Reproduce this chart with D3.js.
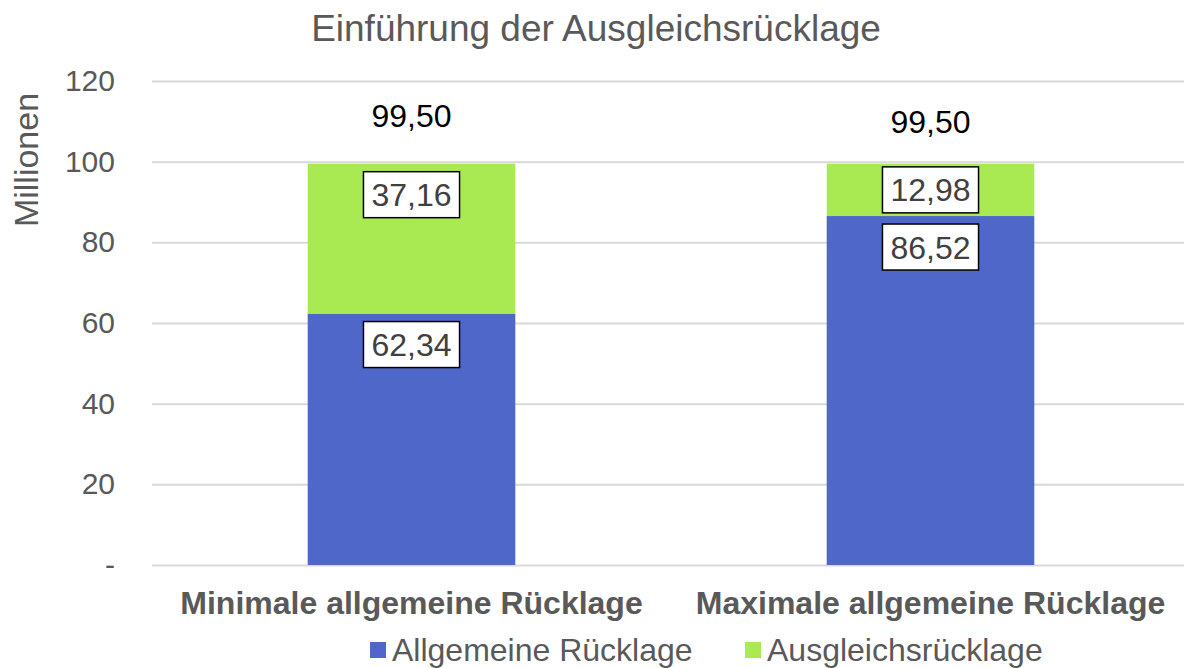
<!DOCTYPE html>
<html>
<head>
<meta charset="utf-8">
<script src="https://cdn.jsdelivr.net/npm/d3@7"></script>
<style>
  body { margin: 0; background: #fff; }
  svg { display: block; font-family: "Liberation Sans", Arial, sans-serif; }
</style>
</head>
<body>
<svg id="chart"></svg>
<script>
// Daten
var categories = ['Minimale allgemeine Rücklage', 'Maximale allgemeine Rücklage'];
var allgemeine = [62.34, 86.52];
var ausgleich = [37.16, 12.98];
var seriesNames = ['Allgemeine Rücklage', 'Ausgleichsrücklage'];
var yTicks = [0, 20, 40, 60, 80, 100, 120];

var width = 1184, height = 668;
var margin = { top: 81, right: 0, bottom: 103, left: 152 };
var colors = ['#4F67C8', '#A9EA52'];
var totalDy = [-48, -42]; // Excel-Labels sitzen leicht unterschiedlich

var svg = d3.select('#chart').attr('width', width).attr('height', height);

var x = d3.scaleBand()
    .domain(categories)
    .range([margin.left, width + 6])
    .padding(0);

var y = d3.scaleLinear()
    .domain([0, 120])
    .range([height - margin.bottom, margin.top]);

var barW = x.bandwidth() * 0.4;

// Titel
svg.append('text')
    .attr('x', 596).attr('y', 41)
    .attr('text-anchor', 'middle')
    .attr('font-size', 37)
    .attr('fill', '#595959')
    .text('Einführung der Ausgleichsrücklage');

// Gitterlinien + y-Achse
var yAxis = d3.axisLeft(y)
    .tickValues(yTicks)
    .tickSize(-(width - margin.left))
    .tickPadding(37)
    .tickFormat(function(d){ return d === 0 ? '-' : d; });

var gy = svg.append('g')
    .attr('transform', 'translate(' + margin.left + ',0)')
    .call(yAxis);
gy.select('.domain').remove();
gy.selectAll('line').attr('stroke', '#d9d9d9').attr('stroke-width', 2);
gy.selectAll('text')
    .attr('font-size', 30)
    .attr('fill', '#595959')
    .attr('font-family', '"Liberation Sans", Arial, sans-serif');

// Achsentitel
svg.append('text')
    .attr('transform', 'translate(38,' + 160 + ') rotate(-90)')
    .attr('text-anchor', 'middle')
    .attr('font-size', 34)
    .attr('fill', '#595959')
    .text('Millionen');

// Stapel
var rows = categories.map(function(c, i){
    return { cat: c, a: allgemeine[i], b: ausgleich[i] };
});
var stack = d3.stack().keys(['a', 'b'])(rows);

var layers = svg.selectAll('.layer')
    .data(stack)
    .enter()
    .append('g')
    .attr('class', 'layer')
    .attr('fill', function(d, i){ return colors[i]; });

layers.selectAll('rect')
    .data(function(d){ return d; })
    .enter()
    .append('rect')
    .attr('x', function(d){ return x(d.data.cat) + (x.bandwidth() - barW) / 2; })
    .attr('width', barW)
    .attr('y', function(d){ return y(d[1]); })
    .attr('height', function(d){ return y(d[0]) - y(d[1]); });

// Datenbeschriftungen (innen am Ende)
var fmt = function(v){ return d3.format('.2f')(v).replace('.', ','); };
var boxH = 46;

stack.forEach(function(layer){
    layer.forEach(function(d){
        var cx = x(d.data.cat) + x.bandwidth() / 2;
        var top = y(d[1]);
        var mid = (y(d[0]) + y(d[1])) / 2;
        var cy = Math.min(top + 8 + boxH / 2, mid);
        var g = svg.append('g');
        var t = g.append('text')
            .attr('x', cx).attr('y', cy)
            .attr('text-anchor', 'middle')
            .attr('dy', '0.36em')
            .attr('font-size', 32)
            .attr('fill', '#404040')
            .text(fmt(d[1] - d[0]));
        var w = t.node().getComputedTextLength() + 16;
        g.insert('rect', 'text')
            .attr('x', cx - w / 2).attr('y', cy - boxH / 2)
            .attr('width', w).attr('height', boxH)
            .attr('fill', '#fff')
            .attr('stroke', '#000')
            .attr('stroke-width', 1.5);
    });
});

// Summen
svg.selectAll('.total')
    .data(rows)
    .enter()
    .append('text')
    .attr('class', 'total')
    .attr('x', function(d){ return x(d.cat) + x.bandwidth() / 2; })
    .attr('y', function(d, i){ return y(d.a + d.b) + totalDy[i]; })
    .attr('dy', '0.35em')
    .attr('text-anchor', 'middle')
    .attr('font-size', 32)
    .attr('fill', '#000')
    .text(function(d){ return fmt(d.a + d.b); });

// x-Achse Beschriftung
var xAxis = d3.axisBottom(x).tickSize(0).tickPadding(26);
var gx = svg.append('g')
    .attr('transform', 'translate(0,' + y(0) + ')')
    .call(xAxis);
gx.select('.domain').remove();
gx.selectAll('text')
    .attr('font-size', 32)
    .attr('font-weight', 'bold')
    .attr('fill', '#595959')
    .attr('font-family', '"Liberation Sans", Arial, sans-serif');

// Legende
var legendX = [370, 745];
var legend = svg.selectAll('.legend')
    .data(seriesNames)
    .enter()
    .append('g')
    .attr('class', 'legend')
    .attr('transform', function(d, i){ return 'translate(' + legendX[i] + ',650)'; });
legend.append('rect')
    .attr('x', 0).attr('y', -8)
    .attr('width', 16).attr('height', 16)
    .attr('fill', function(d, i){ return colors[i]; });
legend.append('text')
    .attr('x', 22).attr('dy', '0.35em')
    .attr('font-size', 32)
    .attr('fill', '#595959')
    .text(function(d){ return d; });
</script>
</body>
</html>
